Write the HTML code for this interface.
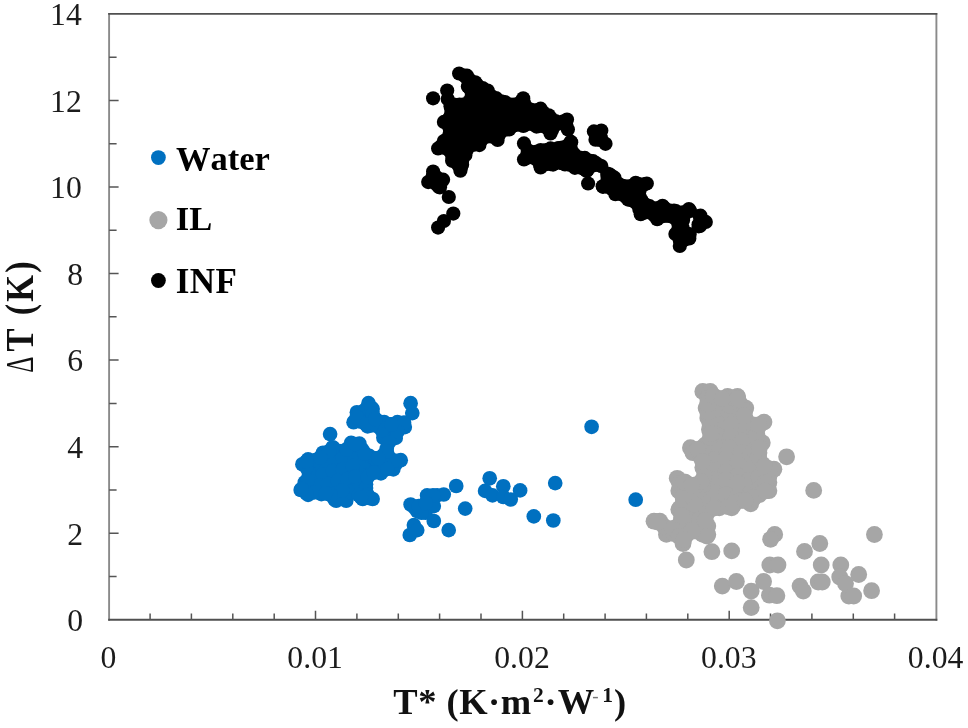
<!DOCTYPE html>
<html><head><meta charset="utf-8"><title>Scatter plot</title>
<style>
html,body{margin:0;padding:0;background:#fff;}
body{width:968px;height:728px;overflow:hidden;}
svg{display:block;filter:blur(0.55px);font-family:"Liberation Serif","DejaVu Serif",serif;font-kerning:none;}
</style></head><body>
<svg width="968" height="728" viewBox="0 0 968 728">
<rect width="968" height="728" fill="#fff"/>
<path d="M109.1 13.0V620.7M936.4 13.0V620.7" fill="none" stroke="#8a8a8a" stroke-width="1.9"/>
<path d="M108.2 13.9H937.3M108.2 619.8H937.3" fill="none" stroke="#505050" stroke-width="1.9"/>
<path d="M109.1 576.5h7.5M109.1 533.2h9.5M109.1 490.0h7.5M109.1 446.7h9.5M109.1 403.4h7.5M109.1 360.1h9.5M109.1 316.8h7.5M109.1 273.6h9.5M109.1 230.3h7.5M109.1 187.0h9.5M109.1 143.7h7.5M109.1 100.5h9.5M109.1 57.2h7.5M150.1 619.8v-6.3M191.4 619.8v-6.3M232.8 619.8v-6.3M274.2 619.8v-6.3M315.5 619.8v-9.0M356.9 619.8v-6.3M398.3 619.8v-6.3M439.6 619.8v-6.3M481.0 619.8v-6.3M522.4 619.8v-9.0M563.7 619.8v-6.3M605.1 619.8v-6.3M646.4 619.8v-6.3M687.8 619.8v-6.3M729.2 619.8v-9.0M770.5 619.8v-6.3M811.9 619.8v-6.3M853.3 619.8v-6.3M894.6 619.8v-6.3" stroke="#555" stroke-width="1.5" fill="none"/>
<text x="83.2" y="631.1" text-anchor="end" font-size="31.7" fill="#1c1c1c">0</text>
<text x="83.2" y="544.5" text-anchor="end" font-size="31.7" fill="#1c1c1c">2</text>
<text x="83.2" y="458.0" text-anchor="end" font-size="31.7" fill="#1c1c1c">4</text>
<text x="83.2" y="371.4" text-anchor="end" font-size="31.7" fill="#1c1c1c">6</text>
<text x="83.2" y="284.9" text-anchor="end" font-size="31.7" fill="#1c1c1c">8</text>
<text x="81.8" y="198.3" text-anchor="end" font-size="31.7" fill="#1c1c1c">10</text>
<text x="81.8" y="111.8" text-anchor="end" font-size="31.7" fill="#1c1c1c">12</text>
<text x="81.8" y="24.6" text-anchor="end" font-size="31.7" fill="#1c1c1c">14</text>
<text x="108.3" y="668" text-anchor="middle" font-size="31.7" fill="#1c1c1c">0</text>
<text x="315.1" y="668" text-anchor="middle" font-size="31.7" fill="#1c1c1c">0.01</text>
<text x="522.0" y="668" text-anchor="middle" font-size="31.7" fill="#1c1c1c">0.02</text>
<text x="728.8" y="668" text-anchor="middle" font-size="31.7" fill="#1c1c1c">0.03</text>
<text x="935.6" y="668" text-anchor="middle" font-size="31.7" fill="#1c1c1c">0.04</text>
<text x="393.3" y="714.3" font-size="36.5" font-weight="bold" letter-spacing="0.5" fill="#111">T* (K·m<tspan dy="-12.8" dx="1.3" font-size="21.5">2</tspan><tspan dy="12.8" dx="0.3">·</tspan><tspan dx="0.6">W</tspan><tspan dy="-12.8" dx="-2.6" font-weight="normal" font-size="19" fill="#777">-</tspan><tspan dx="3.2" font-size="21.5">1</tspan><tspan dy="12.8" dx="0.6">)</tspan></text>
<text transform="translate(33 372.8) rotate(-90)" font-size="39.5" textLength="16.2" lengthAdjust="spacingAndGlyphs" fill="#111">Δ</text>
<text transform="translate(33 351.4) rotate(-90) scale(0.87 1)" font-size="39.5" font-weight="bold" letter-spacing="2.6" fill="#111">T (K)</text>
<circle cx="158.4" cy="157.6" r="7.4" fill="#0070c0"/>
<circle cx="158.4" cy="220.1" r="9.1" fill="#a6a6a6"/>
<circle cx="158.4" cy="280.5" r="7.4" fill="#000"/>
<text x="176" y="169.5" font-size="34.5" font-weight="bold" fill="#000">Water</text>
<text x="175.8" y="230.2" font-size="34.5" font-weight="bold" fill="#000">IL</text>
<text x="175.8" y="292.6" font-size="35" font-weight="bold" letter-spacing="0.4" fill="#000">INF</text>
<g fill="#0070c0"><circle cx="367.5" cy="412.5" r="7.35"/><circle cx="360.0" cy="420.0" r="7.35"/><circle cx="367.5" cy="420.0" r="7.35"/><circle cx="375.0" cy="420.0" r="7.35"/><circle cx="382.5" cy="427.5" r="7.35"/><circle cx="390.0" cy="427.5" r="7.35"/><circle cx="397.5" cy="427.5" r="7.35"/><circle cx="390.0" cy="435.0" r="7.35"/><circle cx="352.5" cy="450.0" r="7.35"/><circle cx="360.0" cy="450.0" r="7.35"/><circle cx="322.5" cy="457.5" r="7.35"/><circle cx="330.0" cy="457.5" r="7.35"/><circle cx="337.5" cy="457.5" r="7.35"/><circle cx="345.0" cy="457.5" r="7.35"/><circle cx="352.5" cy="457.5" r="7.35"/><circle cx="360.0" cy="457.5" r="7.35"/><circle cx="367.5" cy="457.5" r="7.35"/><circle cx="382.5" cy="457.5" r="7.35"/><circle cx="307.5" cy="465.0" r="7.35"/><circle cx="315.0" cy="465.0" r="7.35"/><circle cx="322.5" cy="465.0" r="7.35"/><circle cx="330.0" cy="465.0" r="7.35"/><circle cx="337.5" cy="465.0" r="7.35"/><circle cx="345.0" cy="465.0" r="7.35"/><circle cx="352.5" cy="465.0" r="7.35"/><circle cx="360.0" cy="465.0" r="7.35"/><circle cx="367.5" cy="465.0" r="7.35"/><circle cx="375.0" cy="465.0" r="7.35"/><circle cx="382.5" cy="465.0" r="7.35"/><circle cx="390.0" cy="465.0" r="7.35"/><circle cx="315.0" cy="472.5" r="7.35"/><circle cx="322.5" cy="472.5" r="7.35"/><circle cx="330.0" cy="472.5" r="7.35"/><circle cx="337.5" cy="472.5" r="7.35"/><circle cx="345.0" cy="472.5" r="7.35"/><circle cx="352.5" cy="472.5" r="7.35"/><circle cx="360.0" cy="472.5" r="7.35"/><circle cx="367.5" cy="472.5" r="7.35"/><circle cx="315.0" cy="480.0" r="7.35"/><circle cx="322.5" cy="480.0" r="7.35"/><circle cx="330.0" cy="480.0" r="7.35"/><circle cx="337.5" cy="480.0" r="7.35"/><circle cx="345.0" cy="480.0" r="7.35"/><circle cx="352.5" cy="480.0" r="7.35"/><circle cx="360.0" cy="480.0" r="7.35"/><circle cx="307.5" cy="487.5" r="7.35"/><circle cx="315.0" cy="487.5" r="7.35"/><circle cx="322.5" cy="487.5" r="7.35"/><circle cx="330.0" cy="487.5" r="7.35"/><circle cx="337.5" cy="487.5" r="7.35"/><circle cx="345.0" cy="487.5" r="7.35"/><circle cx="352.5" cy="487.5" r="7.35"/><circle cx="360.0" cy="487.5" r="7.35"/><circle cx="337.5" cy="495.0" r="7.35"/><circle cx="345.0" cy="495.0" r="7.35"/><circle cx="360.0" cy="495.0" r="7.35"/><circle cx="427.5" cy="502.5" r="7.35"/><circle cx="420.0" cy="510.0" r="7.35"/><circle cx="368.5" cy="403.2" r="7.35"/><circle cx="372.6" cy="409.0" r="7.35"/><circle cx="356.9" cy="412.3" r="7.35"/><circle cx="353.6" cy="422.2" r="7.35"/><circle cx="364.3" cy="418.1" r="7.35"/><circle cx="374.3" cy="418.1" r="7.35"/><circle cx="367.6" cy="426.3" r="7.35"/><circle cx="377.6" cy="426.3" r="7.35"/><circle cx="384.2" cy="422.2" r="7.35"/><circle cx="385.8" cy="432.9" r="7.35"/><circle cx="397.4" cy="422.2" r="7.35"/><circle cx="404.8" cy="427.1" r="7.35"/><circle cx="395.7" cy="437.9" r="7.35"/><circle cx="387.5" cy="439.5" r="7.35"/><circle cx="410.6" cy="403.2" r="7.35"/><circle cx="412.3" cy="413.1" r="7.35"/><circle cx="330.1" cy="434.1" r="7.35"/><circle cx="351.1" cy="442.9" r="7.35"/><circle cx="359.4" cy="443.7" r="7.35"/><circle cx="386.7" cy="448.6" r="7.35"/><circle cx="382.5" cy="456.1" r="7.35"/><circle cx="400.7" cy="460.2" r="7.35"/><circle cx="393.3" cy="469.3" r="7.35"/><circle cx="390.8" cy="459.4" r="7.35"/><circle cx="380.9" cy="473.4" r="7.35"/><circle cx="372.6" cy="462.7" r="7.35"/><circle cx="364.3" cy="454.4" r="7.35"/><circle cx="308.1" cy="459.4" r="7.35"/><circle cx="302.4" cy="464.3" r="7.35"/><circle cx="323.0" cy="452.8" r="7.35"/><circle cx="332.9" cy="447.8" r="7.35"/><circle cx="339.5" cy="451.1" r="7.35"/><circle cx="300.7" cy="490.0" r="7.35"/><circle cx="308.1" cy="494.9" r="7.35"/><circle cx="304.8" cy="482.5" r="7.35"/><circle cx="312.3" cy="474.3" r="7.35"/><circle cx="314.8" cy="464.3" r="7.35"/><circle cx="323.0" cy="462.7" r="7.35"/><circle cx="332.9" cy="459.4" r="7.35"/><circle cx="342.9" cy="457.7" r="7.35"/><circle cx="352.8" cy="454.4" r="7.35"/><circle cx="362.7" cy="464.3" r="7.35"/><circle cx="323.0" cy="474.3" r="7.35"/><circle cx="332.9" cy="471.0" r="7.35"/><circle cx="342.9" cy="469.3" r="7.35"/><circle cx="352.8" cy="466.0" r="7.35"/><circle cx="362.7" cy="475.9" r="7.35"/><circle cx="372.6" cy="472.6" r="7.35"/><circle cx="318.1" cy="485.8" r="7.35"/><circle cx="328.0" cy="484.2" r="7.35"/><circle cx="337.9" cy="480.9" r="7.35"/><circle cx="347.8" cy="479.2" r="7.35"/><circle cx="357.7" cy="484.2" r="7.35"/><circle cx="366.0" cy="484.2" r="7.35"/><circle cx="334.6" cy="494.1" r="7.35"/><circle cx="342.9" cy="497.4" r="7.35"/><circle cx="336.2" cy="500.7" r="7.35"/><circle cx="346.2" cy="500.7" r="7.35"/><circle cx="362.7" cy="499.0" r="7.35"/><circle cx="372.6" cy="499.0" r="7.35"/><circle cx="321.4" cy="494.1" r="7.35"/><circle cx="334.6" cy="499.5" r="7.35"/><circle cx="366.0" cy="487.9" r="7.35"/><circle cx="410.6" cy="504.5" r="7.35"/><circle cx="427.1" cy="495.4" r="7.35"/><circle cx="437.1" cy="495.4" r="7.35"/><circle cx="443.7" cy="494.5" r="7.35"/><circle cx="417.2" cy="511.1" r="7.35"/><circle cx="425.5" cy="512.7" r="7.35"/><circle cx="433.8" cy="506.1" r="7.35"/><circle cx="433.8" cy="521.0" r="7.35"/><circle cx="413.9" cy="525.1" r="7.35"/><circle cx="417.2" cy="530.1" r="7.35"/><circle cx="409.8" cy="535.0" r="7.35"/><circle cx="414.8" cy="507.8" r="7.35"/><circle cx="421.4" cy="512.7" r="7.35"/><circle cx="433.0" cy="495.4" r="7.35"/><circle cx="456.2" cy="486.0" r="7.35"/><circle cx="448.7" cy="530.1" r="7.35"/><circle cx="465.2" cy="508.6" r="7.35"/><circle cx="489.7" cy="478.3" r="7.35"/><circle cx="485.1" cy="490.9" r="7.35"/><circle cx="492.5" cy="495.4" r="7.35"/><circle cx="503.3" cy="486.3" r="7.35"/><circle cx="503.3" cy="497.0" r="7.35"/><circle cx="510.7" cy="499.5" r="7.35"/><circle cx="520.1" cy="490.4" r="7.35"/><circle cx="533.8" cy="516.4" r="7.35"/><circle cx="555.2" cy="483.1" r="7.35"/><circle cx="553.3" cy="520.5" r="7.35"/><circle cx="591.6" cy="426.8" r="7.35"/><circle cx="635.7" cy="499.7" r="7.35"/><circle cx="362.3" cy="449.7" r="7.35"/><circle cx="369.3" cy="455.9" r="7.35"/><circle cx="383.4" cy="437.7" r="7.35"/><circle cx="350.0" cy="492.0" r="7.35"/><circle cx="418.7" cy="506.0" r="7.35"/><circle cx="404.0" cy="422.7" r="7.35"/><circle cx="384.3" cy="469.7" r="7.35"/><circle cx="397.3" cy="431.7" r="7.35"/><circle cx="308.7" cy="471.7" r="7.35"/><circle cx="342.3" cy="490.3" r="7.35"/><circle cx="315.3" cy="460.0" r="7.35"/><circle cx="358.7" cy="495.0" r="7.35"/><circle cx="355.3" cy="476.7" r="7.35"/><circle cx="364.0" cy="410.7" r="7.35"/><circle cx="361.0" cy="421.7" r="7.35"/><circle cx="390.0" cy="424.3" r="7.35"/><circle cx="330.7" cy="495.0" r="7.35"/><circle cx="346.7" cy="449.3" r="7.35"/><circle cx="389.0" cy="442.3" r="7.35"/><circle cx="314.3" cy="492.3" r="7.35"/><circle cx="332.7" cy="447.3" r="7.35"/><circle cx="367.7" cy="477.0" r="7.35"/><circle cx="375.3" cy="458.3" r="7.35"/><circle cx="381.7" cy="430.0" r="7.35"/><circle cx="388.3" cy="456.3" r="7.35"/><circle cx="367.7" cy="495.0" r="7.35"/><circle cx="396.3" cy="463.0" r="7.35"/><circle cx="307.3" cy="479.7" r="7.35"/><circle cx="356.7" cy="417.0" r="7.35"/><circle cx="379.3" cy="421.7" r="7.35"/><circle cx="371.7" cy="425.3" r="7.35"/><circle cx="368.7" cy="498.0" r="7.35"/><circle cx="394.7" cy="460.7" r="7.35"/><circle cx="374.0" cy="472.7" r="7.35"/><circle cx="361.0" cy="497.3" r="7.35"/><circle cx="387.3" cy="469.0" r="7.35"/><circle cx="329.3" cy="451.0" r="7.35"/><circle cx="320.3" cy="457.3" r="7.35"/><circle cx="364.7" cy="453.3" r="7.35"/><circle cx="371.3" cy="407.7" r="7.35"/><circle cx="355.0" cy="444.0" r="7.35"/><circle cx="306.3" cy="467.0" r="7.35"/><circle cx="372.7" cy="414.0" r="7.35"/><circle cx="383.7" cy="455.0" r="7.35"/><circle cx="306.3" cy="493.0" r="7.35"/><circle cx="301.7" cy="489.0" r="7.35"/><circle cx="386.7" cy="451.3" r="7.35"/><circle cx="306.3" cy="461.7" r="7.35"/><circle cx="366.0" cy="424.3" r="7.35"/><circle cx="325.7" cy="493.3" r="7.35"/><circle cx="391.7" cy="424.3" r="7.35"/><circle cx="375.3" cy="419.0" r="7.35"/><circle cx="378.3" cy="458.0" r="7.35"/><circle cx="425.7" cy="503.0" r="7.35"/></g>
<g fill="#a6a6a6"><circle cx="712.5" cy="397.5" r="8.4"/><circle cx="712.5" cy="405.0" r="8.4"/><circle cx="720.0" cy="405.0" r="8.4"/><circle cx="727.5" cy="405.0" r="8.4"/><circle cx="735.0" cy="405.0" r="8.4"/><circle cx="712.5" cy="412.5" r="8.4"/><circle cx="720.0" cy="412.5" r="8.4"/><circle cx="727.5" cy="412.5" r="8.4"/><circle cx="735.0" cy="412.5" r="8.4"/><circle cx="742.5" cy="412.5" r="8.4"/><circle cx="712.5" cy="420.0" r="8.4"/><circle cx="720.0" cy="420.0" r="8.4"/><circle cx="727.5" cy="420.0" r="8.4"/><circle cx="735.0" cy="420.0" r="8.4"/><circle cx="742.5" cy="420.0" r="8.4"/><circle cx="712.5" cy="427.5" r="8.4"/><circle cx="720.0" cy="427.5" r="8.4"/><circle cx="727.5" cy="427.5" r="8.4"/><circle cx="735.0" cy="427.5" r="8.4"/><circle cx="742.5" cy="427.5" r="8.4"/><circle cx="750.0" cy="427.5" r="8.4"/><circle cx="712.5" cy="435.0" r="8.4"/><circle cx="720.0" cy="435.0" r="8.4"/><circle cx="727.5" cy="435.0" r="8.4"/><circle cx="735.0" cy="435.0" r="8.4"/><circle cx="742.5" cy="435.0" r="8.4"/><circle cx="750.0" cy="435.0" r="8.4"/><circle cx="712.5" cy="442.5" r="8.4"/><circle cx="720.0" cy="442.5" r="8.4"/><circle cx="727.5" cy="442.5" r="8.4"/><circle cx="735.0" cy="442.5" r="8.4"/><circle cx="742.5" cy="442.5" r="8.4"/><circle cx="750.0" cy="442.5" r="8.4"/><circle cx="757.5" cy="442.5" r="8.4"/><circle cx="697.5" cy="450.0" r="8.4"/><circle cx="705.0" cy="450.0" r="8.4"/><circle cx="712.5" cy="450.0" r="8.4"/><circle cx="720.0" cy="450.0" r="8.4"/><circle cx="727.5" cy="450.0" r="8.4"/><circle cx="735.0" cy="450.0" r="8.4"/><circle cx="742.5" cy="450.0" r="8.4"/><circle cx="750.0" cy="450.0" r="8.4"/><circle cx="757.5" cy="450.0" r="8.4"/><circle cx="705.0" cy="457.5" r="8.4"/><circle cx="712.5" cy="457.5" r="8.4"/><circle cx="720.0" cy="457.5" r="8.4"/><circle cx="727.5" cy="457.5" r="8.4"/><circle cx="735.0" cy="457.5" r="8.4"/><circle cx="742.5" cy="457.5" r="8.4"/><circle cx="750.0" cy="457.5" r="8.4"/><circle cx="757.5" cy="457.5" r="8.4"/><circle cx="705.0" cy="465.0" r="8.4"/><circle cx="712.5" cy="465.0" r="8.4"/><circle cx="720.0" cy="465.0" r="8.4"/><circle cx="727.5" cy="465.0" r="8.4"/><circle cx="735.0" cy="465.0" r="8.4"/><circle cx="742.5" cy="465.0" r="8.4"/><circle cx="750.0" cy="465.0" r="8.4"/><circle cx="757.5" cy="465.0" r="8.4"/><circle cx="705.0" cy="472.5" r="8.4"/><circle cx="712.5" cy="472.5" r="8.4"/><circle cx="720.0" cy="472.5" r="8.4"/><circle cx="727.5" cy="472.5" r="8.4"/><circle cx="735.0" cy="472.5" r="8.4"/><circle cx="742.5" cy="472.5" r="8.4"/><circle cx="750.0" cy="472.5" r="8.4"/><circle cx="757.5" cy="472.5" r="8.4"/><circle cx="765.0" cy="472.5" r="8.4"/><circle cx="705.0" cy="480.0" r="8.4"/><circle cx="712.5" cy="480.0" r="8.4"/><circle cx="720.0" cy="480.0" r="8.4"/><circle cx="727.5" cy="480.0" r="8.4"/><circle cx="735.0" cy="480.0" r="8.4"/><circle cx="742.5" cy="480.0" r="8.4"/><circle cx="750.0" cy="480.0" r="8.4"/><circle cx="757.5" cy="480.0" r="8.4"/><circle cx="765.0" cy="480.0" r="8.4"/><circle cx="682.5" cy="487.5" r="8.4"/><circle cx="690.0" cy="487.5" r="8.4"/><circle cx="697.5" cy="487.5" r="8.4"/><circle cx="705.0" cy="487.5" r="8.4"/><circle cx="712.5" cy="487.5" r="8.4"/><circle cx="720.0" cy="487.5" r="8.4"/><circle cx="727.5" cy="487.5" r="8.4"/><circle cx="735.0" cy="487.5" r="8.4"/><circle cx="742.5" cy="487.5" r="8.4"/><circle cx="750.0" cy="487.5" r="8.4"/><circle cx="757.5" cy="487.5" r="8.4"/><circle cx="765.0" cy="487.5" r="8.4"/><circle cx="690.0" cy="495.0" r="8.4"/><circle cx="697.5" cy="495.0" r="8.4"/><circle cx="705.0" cy="495.0" r="8.4"/><circle cx="712.5" cy="495.0" r="8.4"/><circle cx="720.0" cy="495.0" r="8.4"/><circle cx="727.5" cy="495.0" r="8.4"/><circle cx="735.0" cy="495.0" r="8.4"/><circle cx="742.5" cy="495.0" r="8.4"/><circle cx="750.0" cy="495.0" r="8.4"/><circle cx="690.0" cy="502.5" r="8.4"/><circle cx="697.5" cy="502.5" r="8.4"/><circle cx="705.0" cy="502.5" r="8.4"/><circle cx="712.5" cy="502.5" r="8.4"/><circle cx="720.0" cy="502.5" r="8.4"/><circle cx="727.5" cy="502.5" r="8.4"/><circle cx="735.0" cy="502.5" r="8.4"/><circle cx="682.5" cy="510.0" r="8.4"/><circle cx="690.0" cy="510.0" r="8.4"/><circle cx="697.5" cy="510.0" r="8.4"/><circle cx="705.0" cy="510.0" r="8.4"/><circle cx="690.0" cy="517.5" r="8.4"/><circle cx="697.5" cy="517.5" r="8.4"/><circle cx="682.5" cy="525.0" r="8.4"/><circle cx="690.0" cy="525.0" r="8.4"/><circle cx="697.5" cy="525.0" r="8.4"/><circle cx="705.0" cy="525.0" r="8.4"/><circle cx="667.5" cy="532.5" r="8.4"/><circle cx="675.0" cy="532.5" r="8.4"/><circle cx="682.5" cy="532.5" r="8.4"/><circle cx="705.0" cy="532.5" r="8.4"/><circle cx="702.8" cy="391.5" r="8.4"/><circle cx="710.2" cy="391.5" r="8.4"/><circle cx="727.6" cy="396.5" r="8.4"/><circle cx="737.5" cy="396.5" r="8.4"/><circle cx="745.8" cy="408.1" r="8.4"/><circle cx="706.1" cy="408.1" r="8.4"/><circle cx="707.8" cy="418.0" r="8.4"/><circle cx="709.4" cy="429.5" r="8.4"/><circle cx="764.0" cy="422.1" r="8.4"/><circle cx="745.8" cy="419.6" r="8.4"/><circle cx="744.1" cy="429.5" r="8.4"/><circle cx="755.7" cy="439.5" r="8.4"/><circle cx="762.3" cy="442.8" r="8.4"/><circle cx="759.0" cy="452.7" r="8.4"/><circle cx="786.6" cy="456.8" r="8.4"/><circle cx="773.9" cy="469.2" r="8.4"/><circle cx="762.3" cy="464.3" r="8.4"/><circle cx="690.4" cy="447.7" r="8.4"/><circle cx="692.9" cy="452.7" r="8.4"/><circle cx="702.8" cy="467.6" r="8.4"/><circle cx="677.2" cy="478.3" r="8.4"/><circle cx="685.5" cy="482.4" r="8.4"/><circle cx="678.8" cy="490.7" r="8.4"/><circle cx="689.6" cy="492.4" r="8.4"/><circle cx="768.9" cy="482.4" r="8.4"/><circle cx="768.9" cy="490.7" r="8.4"/><circle cx="717.7" cy="401.4" r="8.4"/><circle cx="717.7" cy="414.2" r="8.4"/><circle cx="729.3" cy="414.2" r="8.4"/><circle cx="737.5" cy="414.7" r="8.4"/><circle cx="719.3" cy="424.6" r="8.4"/><circle cx="730.9" cy="424.6" r="8.4"/><circle cx="719.3" cy="436.2" r="8.4"/><circle cx="730.9" cy="436.2" r="8.4"/><circle cx="742.5" cy="441.1" r="8.4"/><circle cx="706.1" cy="444.4" r="8.4"/><circle cx="717.7" cy="447.7" r="8.4"/><circle cx="729.3" cy="447.7" r="8.4"/><circle cx="740.8" cy="452.7" r="8.4"/><circle cx="749.1" cy="457.6" r="8.4"/><circle cx="714.4" cy="459.3" r="8.4"/><circle cx="726.0" cy="459.3" r="8.4"/><circle cx="737.5" cy="464.3" r="8.4"/><circle cx="749.1" cy="469.2" r="8.4"/><circle cx="714.4" cy="470.9" r="8.4"/><circle cx="726.0" cy="472.5" r="8.4"/><circle cx="737.5" cy="475.8" r="8.4"/><circle cx="702.8" cy="480.8" r="8.4"/><circle cx="714.4" cy="482.4" r="8.4"/><circle cx="726.0" cy="484.1" r="8.4"/><circle cx="737.5" cy="487.4" r="8.4"/><circle cx="749.1" cy="480.8" r="8.4"/><circle cx="759.0" cy="477.5" r="8.4"/><circle cx="749.1" cy="490.7" r="8.4"/><circle cx="759.0" cy="489.0" r="8.4"/><circle cx="706.1" cy="490.7" r="8.4"/><circle cx="678.8" cy="509.6" r="8.4"/><circle cx="687.9" cy="507.9" r="8.4"/><circle cx="654.0" cy="521.2" r="8.4"/><circle cx="659.8" cy="521.2" r="8.4"/><circle cx="666.4" cy="534.4" r="8.4"/><circle cx="678.0" cy="526.1" r="8.4"/><circle cx="683.0" cy="543.5" r="8.4"/><circle cx="689.6" cy="521.2" r="8.4"/><circle cx="699.5" cy="519.5" r="8.4"/><circle cx="707.8" cy="526.1" r="8.4"/><circle cx="702.8" cy="534.4" r="8.4"/><circle cx="707.8" cy="534.4" r="8.4"/><circle cx="696.2" cy="531.1" r="8.4"/><circle cx="686.3" cy="560.0" r="8.4"/><circle cx="711.9" cy="551.7" r="8.4"/><circle cx="731.7" cy="550.9" r="8.4"/><circle cx="719.3" cy="507.9" r="8.4"/><circle cx="731.7" cy="507.9" r="8.4"/><circle cx="709.4" cy="506.3" r="8.4"/><circle cx="750.7" cy="503.8" r="8.4"/><circle cx="759.0" cy="494.7" r="8.4"/><circle cx="765.6" cy="481.5" r="8.4"/><circle cx="714.4" cy="479.8" r="8.4"/><circle cx="726.0" cy="479.8" r="8.4"/><circle cx="737.5" cy="483.1" r="8.4"/><circle cx="714.4" cy="493.1" r="8.4"/><circle cx="726.0" cy="494.7" r="8.4"/><circle cx="737.5" cy="496.4" r="8.4"/><circle cx="702.8" cy="501.3" r="8.4"/><circle cx="696.2" cy="493.1" r="8.4"/><circle cx="702.8" cy="484.8" r="8.4"/><circle cx="774.7" cy="534.4" r="8.4"/><circle cx="770.6" cy="539.3" r="8.4"/><circle cx="769.8" cy="565.0" r="8.4"/><circle cx="778.0" cy="565.0" r="8.4"/><circle cx="722.3" cy="586.1" r="8.4"/><circle cx="736.4" cy="581.5" r="8.4"/><circle cx="751.2" cy="591.1" r="8.4"/><circle cx="763.6" cy="581.5" r="8.4"/><circle cx="769.4" cy="595.2" r="8.4"/><circle cx="776.9" cy="595.7" r="8.4"/><circle cx="751.2" cy="607.6" r="8.4"/><circle cx="777.4" cy="620.8" r="8.4"/><circle cx="804.5" cy="551.4" r="8.4"/><circle cx="819.8" cy="543.5" r="8.4"/><circle cx="821.2" cy="565.0" r="8.4"/><circle cx="800.0" cy="586.1" r="8.4"/><circle cx="803.3" cy="591.1" r="8.4"/><circle cx="818.2" cy="582.0" r="8.4"/><circle cx="822.3" cy="582.0" r="8.4"/><circle cx="840.8" cy="565.0" r="8.4"/><circle cx="839.7" cy="577.0" r="8.4"/><circle cx="845.5" cy="583.6" r="8.4"/><circle cx="848.8" cy="596.0" r="8.4"/><circle cx="853.7" cy="596.0" r="8.4"/><circle cx="858.7" cy="574.5" r="8.4"/><circle cx="874.4" cy="534.5" r="8.4"/><circle cx="871.6" cy="590.7" r="8.4"/><circle cx="813.7" cy="490.4" r="8.4"/><circle cx="758.7" cy="426.3" r="8.4"/><circle cx="701.3" cy="458.0" r="8.4"/><circle cx="682.0" cy="536.3" r="8.4"/><circle cx="707.0" cy="513.0" r="8.4"/><circle cx="683.3" cy="501.7" r="8.4"/><circle cx="730.3" cy="405.7" r="8.4"/><circle cx="664.7" cy="527.0" r="8.4"/><circle cx="740.0" cy="500.7" r="8.4"/><circle cx="754.0" cy="450.0" r="8.4"/><circle cx="707.0" cy="536.0" r="8.4"/><circle cx="694.0" cy="504.0" r="8.4"/><circle cx="695.7" cy="485.0" r="8.4"/><circle cx="686.3" cy="534.7" r="8.4"/><circle cx="674.3" cy="533.7" r="8.4"/><circle cx="707.7" cy="398.3" r="8.4"/><circle cx="718.3" cy="398.3" r="8.4"/><circle cx="753.0" cy="425.0" r="8.4"/><circle cx="681.3" cy="520.0" r="8.4"/><circle cx="757.0" cy="435.3" r="8.4"/><circle cx="703.3" cy="447.0" r="8.4"/><circle cx="710.3" cy="437.7" r="8.4"/><circle cx="740.7" cy="404.7" r="8.4"/><circle cx="704.0" cy="476.7" r="8.4"/><circle cx="769.0" cy="476.3" r="8.4"/><circle cx="769.3" cy="469.0" r="8.4"/><circle cx="673.0" cy="528.3" r="8.4"/><circle cx="657.7" cy="522.0" r="8.4"/><circle cx="679.7" cy="484.0" r="8.4"/><circle cx="714.0" cy="508.0" r="8.4"/><circle cx="705.3" cy="520.3" r="8.4"/><circle cx="744.7" cy="411.0" r="8.4"/><circle cx="697.7" cy="449.3" r="8.4"/><circle cx="683.0" cy="497.3" r="8.4"/><circle cx="728.3" cy="506.7" r="8.4"/><circle cx="758.7" cy="457.3" r="8.4"/><circle cx="753.7" cy="498.0" r="8.4"/><circle cx="710.0" cy="423.7" r="8.4"/><circle cx="679.3" cy="536.3" r="8.4"/><circle cx="732.3" cy="397.7" r="8.4"/><circle cx="734.0" cy="504.3" r="8.4"/><circle cx="707.7" cy="412.0" r="8.4"/><circle cx="758.7" cy="425.0" r="8.4"/><circle cx="759.3" cy="448.0" r="8.4"/><circle cx="692.0" cy="531.3" r="8.4"/><circle cx="683.7" cy="539.7" r="8.4"/><circle cx="765.0" cy="491.0" r="8.4"/><circle cx="707.7" cy="404.0" r="8.4"/><circle cx="745.3" cy="500.7" r="8.4"/><circle cx="702.7" cy="461.3" r="8.4"/><circle cx="713.7" cy="396.0" r="8.4"/><circle cx="722.3" cy="398.7" r="8.4"/><circle cx="710.7" cy="433.7" r="8.4"/><circle cx="764.3" cy="466.3" r="8.4"/><circle cx="701.3" cy="481.7" r="8.4"/><circle cx="680.0" cy="508.3" r="8.4"/><circle cx="737.7" cy="398.3" r="8.4"/><circle cx="681.7" cy="516.0" r="8.4"/><circle cx="684.0" cy="482.0" r="8.4"/><circle cx="691.7" cy="485.3" r="8.4"/><circle cx="744.3" cy="415.3" r="8.4"/></g>
<g fill="#000"><circle cx="472.5" cy="82.5" r="7.1"/><circle cx="472.5" cy="90.0" r="7.1"/><circle cx="480.0" cy="90.0" r="7.1"/><circle cx="472.5" cy="97.5" r="7.1"/><circle cx="480.0" cy="97.5" r="7.1"/><circle cx="487.5" cy="97.5" r="7.1"/><circle cx="465.0" cy="105.0" r="7.1"/><circle cx="472.5" cy="105.0" r="7.1"/><circle cx="480.0" cy="105.0" r="7.1"/><circle cx="487.5" cy="105.0" r="7.1"/><circle cx="495.0" cy="105.0" r="7.1"/><circle cx="502.5" cy="105.0" r="7.1"/><circle cx="517.5" cy="105.0" r="7.1"/><circle cx="457.5" cy="112.5" r="7.1"/><circle cx="465.0" cy="112.5" r="7.1"/><circle cx="472.5" cy="112.5" r="7.1"/><circle cx="480.0" cy="112.5" r="7.1"/><circle cx="487.5" cy="112.5" r="7.1"/><circle cx="495.0" cy="112.5" r="7.1"/><circle cx="502.5" cy="112.5" r="7.1"/><circle cx="510.0" cy="112.5" r="7.1"/><circle cx="517.5" cy="112.5" r="7.1"/><circle cx="525.0" cy="112.5" r="7.1"/><circle cx="532.5" cy="112.5" r="7.1"/><circle cx="540.0" cy="112.5" r="7.1"/><circle cx="450.0" cy="120.0" r="7.1"/><circle cx="457.5" cy="120.0" r="7.1"/><circle cx="465.0" cy="120.0" r="7.1"/><circle cx="472.5" cy="120.0" r="7.1"/><circle cx="480.0" cy="120.0" r="7.1"/><circle cx="487.5" cy="120.0" r="7.1"/><circle cx="495.0" cy="120.0" r="7.1"/><circle cx="502.5" cy="120.0" r="7.1"/><circle cx="510.0" cy="120.0" r="7.1"/><circle cx="517.5" cy="120.0" r="7.1"/><circle cx="525.0" cy="120.0" r="7.1"/><circle cx="532.5" cy="120.0" r="7.1"/><circle cx="540.0" cy="120.0" r="7.1"/><circle cx="547.5" cy="120.0" r="7.1"/><circle cx="450.0" cy="127.5" r="7.1"/><circle cx="457.5" cy="127.5" r="7.1"/><circle cx="465.0" cy="127.5" r="7.1"/><circle cx="472.5" cy="127.5" r="7.1"/><circle cx="480.0" cy="127.5" r="7.1"/><circle cx="487.5" cy="127.5" r="7.1"/><circle cx="495.0" cy="127.5" r="7.1"/><circle cx="502.5" cy="127.5" r="7.1"/><circle cx="510.0" cy="127.5" r="7.1"/><circle cx="547.5" cy="127.5" r="7.1"/><circle cx="457.5" cy="135.0" r="7.1"/><circle cx="465.0" cy="135.0" r="7.1"/><circle cx="472.5" cy="135.0" r="7.1"/><circle cx="480.0" cy="135.0" r="7.1"/><circle cx="487.5" cy="135.0" r="7.1"/><circle cx="495.0" cy="135.0" r="7.1"/><circle cx="450.0" cy="142.5" r="7.1"/><circle cx="457.5" cy="142.5" r="7.1"/><circle cx="465.0" cy="142.5" r="7.1"/><circle cx="472.5" cy="142.5" r="7.1"/><circle cx="450.0" cy="150.0" r="7.1"/><circle cx="457.5" cy="150.0" r="7.1"/><circle cx="465.0" cy="150.0" r="7.1"/><circle cx="555.0" cy="150.0" r="7.1"/><circle cx="562.5" cy="150.0" r="7.1"/><circle cx="570.0" cy="150.0" r="7.1"/><circle cx="457.5" cy="157.5" r="7.1"/><circle cx="540.0" cy="157.5" r="7.1"/><circle cx="547.5" cy="157.5" r="7.1"/><circle cx="555.0" cy="157.5" r="7.1"/><circle cx="562.5" cy="157.5" r="7.1"/><circle cx="570.0" cy="157.5" r="7.1"/><circle cx="577.5" cy="165.0" r="7.1"/><circle cx="585.0" cy="165.0" r="7.1"/><circle cx="592.5" cy="165.0" r="7.1"/><circle cx="435.0" cy="180.0" r="7.1"/><circle cx="615.0" cy="187.5" r="7.1"/><circle cx="622.5" cy="187.5" r="7.1"/><circle cx="630.0" cy="187.5" r="7.1"/><circle cx="637.5" cy="187.5" r="7.1"/><circle cx="630.0" cy="195.0" r="7.1"/><circle cx="637.5" cy="195.0" r="7.1"/><circle cx="637.5" cy="202.5" r="7.1"/><circle cx="645.0" cy="210.0" r="7.1"/><circle cx="652.5" cy="210.0" r="7.1"/><circle cx="660.0" cy="210.0" r="7.1"/><circle cx="675.0" cy="217.5" r="7.1"/><circle cx="682.5" cy="217.5" r="7.1"/><circle cx="682.5" cy="232.5" r="7.1"/><circle cx="682.5" cy="240.0" r="7.1"/><circle cx="433.1" cy="98.3" r="7.1"/><circle cx="447.2" cy="90.5" r="7.1"/><circle cx="459.1" cy="73.5" r="7.1"/><circle cx="467.0" cy="75.7" r="7.1"/><circle cx="475.3" cy="82.3" r="7.1"/><circle cx="467.9" cy="86.4" r="7.1"/><circle cx="482.7" cy="88.1" r="7.1"/><circle cx="487.7" cy="90.5" r="7.1"/><circle cx="496.0" cy="98.0" r="7.1"/><circle cx="505.0" cy="102.1" r="7.1"/><circle cx="514.1" cy="104.6" r="7.1"/><circle cx="523.2" cy="98.3" r="7.1"/><circle cx="530.7" cy="109.5" r="7.1"/><circle cx="540.6" cy="108.7" r="7.1"/><circle cx="548.8" cy="115.3" r="7.1"/><circle cx="555.5" cy="121.1" r="7.1"/><circle cx="567.0" cy="119.5" r="7.1"/><circle cx="567.9" cy="129.4" r="7.1"/><circle cx="550.5" cy="133.5" r="7.1"/><circle cx="538.9" cy="126.1" r="7.1"/><circle cx="529.0" cy="122.8" r="7.1"/><circle cx="519.1" cy="124.4" r="7.1"/><circle cx="509.2" cy="129.4" r="7.1"/><circle cx="497.6" cy="136.8" r="7.1"/><circle cx="487.7" cy="136.0" r="7.1"/><circle cx="479.4" cy="145.1" r="7.1"/><circle cx="469.5" cy="141.0" r="7.1"/><circle cx="465.4" cy="155.0" r="7.1"/><circle cx="457.9" cy="162.4" r="7.1"/><circle cx="452.1" cy="160.8" r="7.1"/><circle cx="460.4" cy="170.7" r="7.1"/><circle cx="449.7" cy="150.9" r="7.1"/><circle cx="438.1" cy="148.4" r="7.1"/><circle cx="443.9" cy="141.0" r="7.1"/><circle cx="443.9" cy="121.9" r="7.1"/><circle cx="450.5" cy="106.2" r="7.1"/><circle cx="451.3" cy="112.9" r="7.1"/><circle cx="433.1" cy="171.5" r="7.1"/><circle cx="524.0" cy="143.4" r="7.1"/><circle cx="524.0" cy="159.5" r="7.1"/><circle cx="532.3" cy="155.8" r="7.1"/><circle cx="540.6" cy="150.0" r="7.1"/><circle cx="550.5" cy="148.4" r="7.1"/><circle cx="562.1" cy="147.6" r="7.1"/><circle cx="540.6" cy="167.4" r="7.1"/><circle cx="550.5" cy="164.1" r="7.1"/><circle cx="562.1" cy="160.8" r="7.1"/><circle cx="568.7" cy="154.2" r="7.1"/><circle cx="459.6" cy="104.6" r="7.1"/><circle cx="469.5" cy="101.3" r="7.1"/><circle cx="479.4" cy="99.6" r="7.1"/><circle cx="489.3" cy="104.6" r="7.1"/><circle cx="459.6" cy="117.8" r="7.1"/><circle cx="469.5" cy="114.5" r="7.1"/><circle cx="479.4" cy="111.2" r="7.1"/><circle cx="489.3" cy="114.5" r="7.1"/><circle cx="499.3" cy="111.2" r="7.1"/><circle cx="509.2" cy="114.5" r="7.1"/><circle cx="519.1" cy="112.9" r="7.1"/><circle cx="529.0" cy="116.2" r="7.1"/><circle cx="538.9" cy="117.8" r="7.1"/><circle cx="459.6" cy="129.4" r="7.1"/><circle cx="469.5" cy="127.7" r="7.1"/><circle cx="479.4" cy="124.4" r="7.1"/><circle cx="489.3" cy="126.1" r="7.1"/><circle cx="499.3" cy="122.8" r="7.1"/><circle cx="459.6" cy="141.0" r="7.1"/><circle cx="453.0" cy="132.7" r="7.1"/><circle cx="569.9" cy="143.8" r="7.1"/><circle cx="593.9" cy="131.4" r="7.1"/><circle cx="601.3" cy="130.6" r="7.1"/><circle cx="595.5" cy="139.7" r="7.1"/><circle cx="605.5" cy="143.8" r="7.1"/><circle cx="561.7" cy="149.6" r="7.1"/><circle cx="565.0" cy="164.5" r="7.1"/><circle cx="574.9" cy="167.8" r="7.1"/><circle cx="584.8" cy="157.9" r="7.1"/><circle cx="593.1" cy="161.2" r="7.1"/><circle cx="584.8" cy="169.4" r="7.1"/><circle cx="601.3" cy="166.1" r="7.1"/><circle cx="588.1" cy="183.5" r="7.1"/><circle cx="603.0" cy="186.8" r="7.1"/><circle cx="609.6" cy="174.4" r="7.1"/><circle cx="614.5" cy="177.7" r="7.1"/><circle cx="615.4" cy="194.2" r="7.1"/><circle cx="624.5" cy="186.0" r="7.1"/><circle cx="626.1" cy="194.2" r="7.1"/><circle cx="637.7" cy="184.3" r="7.1"/><circle cx="646.8" cy="183.5" r="7.1"/><circle cx="632.7" cy="199.2" r="7.1"/><circle cx="641.0" cy="199.2" r="7.1"/><circle cx="639.3" cy="209.1" r="7.1"/><circle cx="647.6" cy="205.8" r="7.1"/><circle cx="652.6" cy="214.0" r="7.1"/><circle cx="662.5" cy="205.8" r="7.1"/><circle cx="665.8" cy="215.7" r="7.1"/><circle cx="674.0" cy="210.7" r="7.1"/><circle cx="688.9" cy="209.1" r="7.1"/><circle cx="680.7" cy="215.7" r="7.1"/><circle cx="700.5" cy="215.7" r="7.1"/><circle cx="451.3" cy="146.6" r="7.1"/><circle cx="462.1" cy="164.8" r="7.1"/><circle cx="497.6" cy="140.0" r="7.1"/><circle cx="428.2" cy="182.1" r="7.1"/><circle cx="443.1" cy="179.7" r="7.1"/><circle cx="438.9" cy="187.1" r="7.1"/><circle cx="448.8" cy="197.0" r="7.1"/><circle cx="453.3" cy="213.6" r="7.1"/><circle cx="443.9" cy="221.0" r="7.1"/><circle cx="438.1" cy="227.6" r="7.1"/><circle cx="562.1" cy="163.1" r="7.1"/><circle cx="553.1" cy="164.6" r="7.1"/><circle cx="563.0" cy="151.4" r="7.1"/><circle cx="571.2" cy="142.3" r="7.1"/><circle cx="574.5" cy="154.7" r="7.1"/><circle cx="587.8" cy="169.6" r="7.1"/><circle cx="596.0" cy="163.0" r="7.1"/><circle cx="607.6" cy="176.2" r="7.1"/><circle cx="629.1" cy="197.7" r="7.1"/><circle cx="635.7" cy="182.8" r="7.1"/><circle cx="639.0" cy="197.7" r="7.1"/><circle cx="640.7" cy="214.2" r="7.1"/><circle cx="657.2" cy="219.2" r="7.1"/><circle cx="668.8" cy="215.9" r="7.1"/><circle cx="675.4" cy="234.0" r="7.1"/><circle cx="536.5" cy="126.6" r="7.1"/><circle cx="525.0" cy="125.0" r="7.1"/><circle cx="628.1" cy="199.6" r="7.1"/><circle cx="649.6" cy="206.2" r="7.1"/><circle cx="672.7" cy="216.1" r="7.1"/><circle cx="676.0" cy="211.2" r="7.1"/><circle cx="682.6" cy="219.4" r="7.1"/><circle cx="705.8" cy="221.9" r="7.1"/><circle cx="700.0" cy="226.0" r="7.1"/><circle cx="682.6" cy="227.7" r="7.1"/><circle cx="689.3" cy="238.4" r="7.1"/><circle cx="679.8" cy="245.9" r="7.1"/><circle cx="447.7" cy="99.0" r="7.1"/><circle cx="478.7" cy="132.0" r="7.1"/><circle cx="548.7" cy="157.0" r="7.1"/><circle cx="612.3" cy="189.3" r="7.1"/><circle cx="527.7" cy="150.0" r="7.1"/><circle cx="471.7" cy="93.0" r="7.1"/><circle cx="449.0" cy="126.7" r="7.1"/><circle cx="689.7" cy="234.0" r="7.1"/><circle cx="553.3" cy="127.0" r="7.1"/><circle cx="466.7" cy="150.0" r="7.1"/><circle cx="535.7" cy="159.0" r="7.1"/><circle cx="678.3" cy="223.7" r="7.1"/><circle cx="639.3" cy="191.7" r="7.1"/><circle cx="455.0" cy="152.7" r="7.1"/><circle cx="698.7" cy="224.3" r="7.1"/><circle cx="689.7" cy="211.0" r="7.1"/><circle cx="543.7" cy="126.3" r="7.1"/><circle cx="499.7" cy="133.7" r="7.1"/><circle cx="557.7" cy="148.3" r="7.1"/><circle cx="523.7" cy="102.3" r="7.1"/><circle cx="523.3" cy="126.0" r="7.1"/><circle cx="449.7" cy="134.3" r="7.1"/><circle cx="512.3" cy="126.3" r="7.1"/><circle cx="559.7" cy="123.3" r="7.1"/><circle cx="440.0" cy="187.3" r="7.1"/><circle cx="679.7" cy="240.0" r="7.1"/><circle cx="437.3" cy="177.7" r="7.1"/><circle cx="466.7" cy="78.0" r="7.1"/><circle cx="586.7" cy="171.0" r="7.1"/><circle cx="634.7" cy="201.7" r="7.1"/><circle cx="593.7" cy="165.3" r="7.1"/><circle cx="570.7" cy="141.7" r="7.1"/><circle cx="630.3" cy="186.0" r="7.1"/><circle cx="621.3" cy="194.3" r="7.1"/><circle cx="601.0" cy="137.7" r="7.1"/><circle cx="473.0" cy="145.0" r="7.1"/><circle cx="683.0" cy="220.3" r="7.1"/><circle cx="682.7" cy="212.3" r="7.1"/><circle cx="465.0" cy="128.3" r="7.1"/><circle cx="657.3" cy="208.0" r="7.1"/><circle cx="532.7" cy="152.0" r="7.1"/><circle cx="619.0" cy="184.0" r="7.1"/><circle cx="699.7" cy="216.0" r="7.1"/><circle cx="458.3" cy="165.0" r="7.1"/><circle cx="571.0" cy="149.0" r="7.1"/><circle cx="669.0" cy="210.3" r="7.1"/><circle cx="486.7" cy="136.7" r="7.1"/><circle cx="449.3" cy="118.0" r="7.1"/><circle cx="607.3" cy="173.7" r="7.1"/><circle cx="454.0" cy="104.7" r="7.1"/><circle cx="469.7" cy="110.3" r="7.1"/><circle cx="546.0" cy="150.0" r="7.1"/><circle cx="698.7" cy="226.3" r="7.1"/><circle cx="570.3" cy="165.0" r="7.1"/><circle cx="683.7" cy="240.3" r="7.1"/><circle cx="435.7" cy="183.7" r="7.1"/><circle cx="674.3" cy="218.0" r="7.1"/><circle cx="444.7" cy="148.0" r="7.1"/><circle cx="432.7" cy="176.0" r="7.1"/><circle cx="561.0" cy="157.0" r="7.1"/><circle cx="531.0" cy="124.0" r="7.1"/><circle cx="645.7" cy="212.3" r="7.1"/><circle cx="562.7" cy="121.7" r="7.1"/><circle cx="579.7" cy="157.7" r="7.1"/><circle cx="492.3" cy="136.7" r="7.1"/><circle cx="519.7" cy="102.7" r="7.1"/><circle cx="602.7" cy="186.3" r="7.1"/><circle cx="545.7" cy="164.3" r="7.1"/><circle cx="501.3" cy="101.3" r="7.1"/><circle cx="599.7" cy="140.0" r="7.1"/><circle cx="477.0" cy="117.0" r="7.1"/><circle cx="529.0" cy="157.3" r="7.1"/><circle cx="536.7" cy="110.0" r="7.1"/><circle cx="490.3" cy="95.3" r="7.1"/><circle cx="644.7" cy="184.0" r="7.1"/><circle cx="552.0" cy="130.0" r="7.1"/><circle cx="678.3" cy="229.0" r="7.1"/><circle cx="567.3" cy="145.7" r="7.1"/><circle cx="464.3" cy="104.3" r="7.1"/><circle cx="589.3" cy="160.7" r="7.1"/><circle cx="662.3" cy="216.3" r="7.1"/><circle cx="462.3" cy="160.0" r="7.1"/><circle cx="527.3" cy="154.0" r="7.1"/><circle cx="560.7" cy="163.0" r="7.1"/><circle cx="581.0" cy="167.7" r="7.1"/><circle cx="469.7" cy="79.7" r="7.1"/><circle cx="543.0" cy="112.3" r="7.1"/><circle cx="608.0" cy="187.0" r="7.1"/><circle cx="505.3" cy="129.7" r="7.1"/><circle cx="477.3" cy="85.0" r="7.1"/><circle cx="566.3" cy="125.0" r="7.1"/><circle cx="540.0" cy="164.7" r="7.1"/><circle cx="607.7" cy="179.3" r="7.1"/><circle cx="690.0" cy="210.7" r="7.1"/><circle cx="441.3" cy="146.0" r="7.1"/><circle cx="510.7" cy="104.7" r="7.1"/><circle cx="452.3" cy="156.7" r="7.1"/><circle cx="482.0" cy="139.3" r="7.1"/><circle cx="654.7" cy="215.7" r="7.1"/><circle cx="643.7" cy="203.3" r="7.1"/><circle cx="464.3" cy="75.7" r="7.1"/><circle cx="502.0" cy="121.7" r="7.1"/><circle cx="683.7" cy="216.0" r="7.1"/><circle cx="559.3" cy="148.0" r="7.1"/><circle cx="638.7" cy="184.0" r="7.1"/><circle cx="636.7" cy="203.3" r="7.1"/><circle cx="642.0" cy="186.0" r="7.1"/><circle cx="471.7" cy="96.0" r="7.1"/><circle cx="626.0" cy="197.0" r="7.1"/><circle cx="664.3" cy="207.7" r="7.1"/><circle cx="599.3" cy="165.3" r="7.1"/><circle cx="610.7" cy="175.3" r="7.1"/><circle cx="516.7" cy="124.7" r="7.1"/><circle cx="440.7" cy="183.0" r="7.1"/><circle cx="461.0" cy="167.3" r="7.1"/><circle cx="537.0" cy="151.7" r="7.1"/><circle cx="631.7" cy="200.3" r="7.1"/><circle cx="550.7" cy="118.3" r="7.1"/><circle cx="548.0" cy="128.7" r="7.1"/><circle cx="447.0" cy="139.0" r="7.1"/><circle cx="451.3" cy="109.0" r="7.1"/><circle cx="469.0" cy="87.3" r="7.1"/><circle cx="526.0" cy="106.7" r="7.1"/><circle cx="450.0" cy="130.0" r="7.1"/><circle cx="573.7" cy="153.7" r="7.1"/><circle cx="466.0" cy="121.0" r="7.1"/><circle cx="455.3" cy="123.3" r="7.1"/></g>
</svg>
</body></html>
